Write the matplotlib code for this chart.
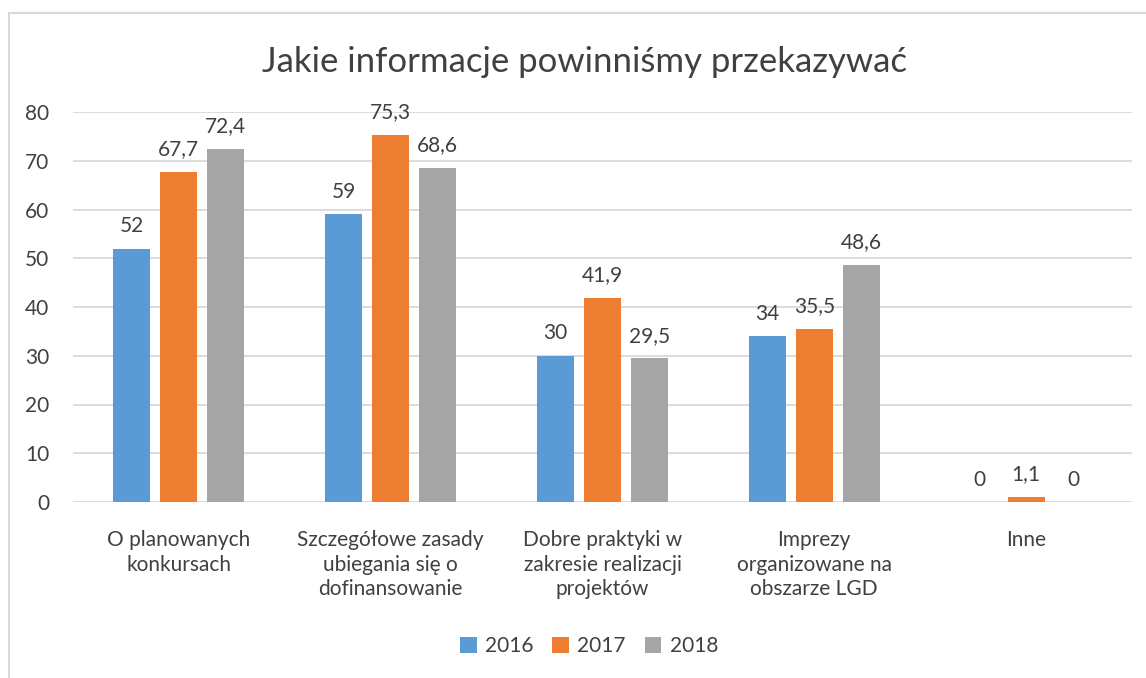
import matplotlib
matplotlib.use("Agg")
import matplotlib.pyplot as plt
from matplotlib.lines import Line2D
import numpy as np

plt.rcParams['font.family'] = ['Lato', 'DejaVu Sans']

title = "Jakie informacje powinniśmy przekazywać"
categories = ["O planowanych\nkonkursach",
              "Szczegółowe zasady\nubiegania się o\ndofinansowanie",
              "Dobre praktyki w\nzakresie realizacji\nprojektów",
              "Imprezy\norganizowane na\nobszarze LGD",
              "Inne"]
series_names = ["2016", "2017", "2018"]
v2016 = [52, 59, 30, 34, 0]
v2017 = [67.7, 75.3, 41.9, 35.5, 1.1]
v2018 = [72.4, 68.6, 29.5, 48.6, 0]
colors = ["#5B9BD5", "#ED7D31", "#A5A5A5"]
yticks = [0, 10, 20, 30, 40, 50, 60, 70, 80]

W, H = 1146, 678
fig = plt.figure(figsize=(W / 100, H / 100), dpi=100)
ax = fig.add_axes([73 / W, 1 - 502 / H, (1132 - 73) / W, (502 - 112) / H])

x = np.arange(len(categories))
step = 0.222
width = 0.1747
text_color = "#404040"
fs = 15
for i, (vals, name, c) in enumerate(zip([v2016, v2017, v2018], series_names, colors)):
    pos = x + (i - 1) * step
    bars = ax.bar(pos, vals, width=width, color=c, label=name, zorder=3)
    labels = [("%g" % v).replace(".", ",") for v in vals]
    ax.bar_label(bars, labels=labels, padding=9, fontsize=fs, color=text_color)

ax.set_xlim(-0.5, len(categories) - 0.5)
ax.set_ylim(0, 80)
ax.set_yticks(yticks)
ax.set_xticks(x)
ax.set_xticklabels(categories, fontsize=fs, color=text_color, linespacing=1.3)
ax.tick_params(axis='both', length=0, labelsize=fs, colors=text_color)
ax.tick_params(axis='x', pad=20)
ax.tick_params(axis='y', pad=17)
ax.grid(axis='y', color="#D9D9D9", linewidth=1.3, zorder=0)
for s in ax.spines.values():
    s.set_visible(False)

fig.text(585 / W, 1 - 62 / H, title, ha='center', va='center', fontsize=25, color=text_color)

leg = fig.legend(loc='center', bbox_to_anchor=(589 / W, 1 - 646 / H), ncol=3,
                 frameon=False, fontsize=fs, handlelength=0.8, handleheight=0.8,
                 columnspacing=0.9, handletextpad=0.4)
for t in leg.get_texts():
    t.set_color(text_color)

fig.add_artist(Line2D([8.5 / W, 8.5 / W], [0, 1 - 13 / H], color="#D9D9D9", linewidth=1.5,
                      transform=fig.transFigure))
fig.add_artist(Line2D([8.5 / W, 1], [1 - 13 / H, 1 - 13 / H], color="#D9D9D9", linewidth=1.5,
                      transform=fig.transFigure))

fig.savefig("out.png", dpi=100)
